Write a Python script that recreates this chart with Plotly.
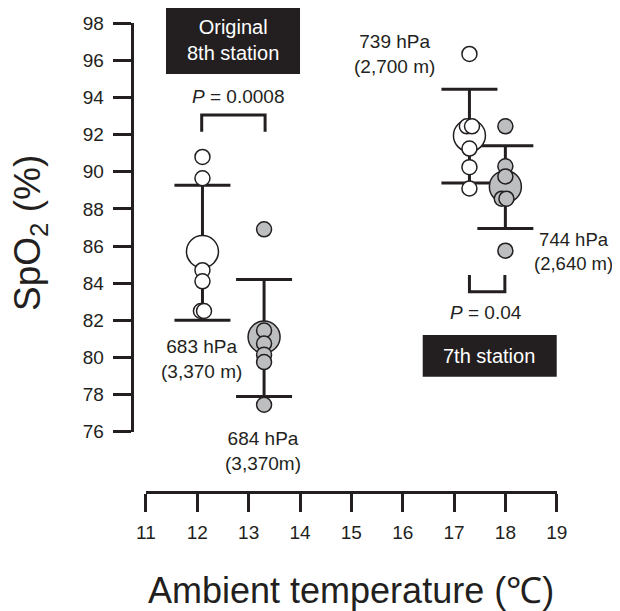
import plotly.graph_objects as go

# ---- data ----
orig_white_x = [12.1, 12.1, 12.1, 12.1, 12.07, 12.13]
orig_white_y = [90.8, 89.65, 84.7, 84.1, 82.5, 82.5]
orig_white_mean_x = 12.1
orig_white_mean = 85.7
orig_white_hi = 89.27
orig_white_lo = 82.0

orig_gray_x = [13.3, 13.3, 13.3, 13.3, 13.3, 13.3]
orig_gray_y = [86.9, 81.45, 80.75, 80.15, 79.75, 77.45]
orig_gray_mean_x = 13.3
orig_gray_mean = 81.1
orig_gray_hi = 84.2
orig_gray_lo = 77.9

st7_white_x = [17.3, 17.25, 17.35, 17.3, 17.3, 17.3]
st7_white_y = [96.35, 92.45, 92.45, 91.25, 90.25, 89.1]
st7_white_mean_x = 17.3
st7_white_mean = 91.95
st7_white_hi = 94.45
st7_white_lo = 89.4

st7_gray_x = [18.0, 18.0, 18.0, 17.93, 18.02, 18.0]
st7_gray_y = [92.45, 90.3, 89.75, 88.55, 88.55, 85.75]
st7_gray_mean_x = 18.0
st7_gray_mean = 89.2
st7_gray_hi = 91.4
st7_gray_lo = 86.95

x_ticks = [11, 12, 13, 14, 15, 16, 17, 18, 19]
y_ticks = [76, 78, 80, 82, 84, 86, 88, 90, 92, 94, 96, 98]

DARK = "#231f20"
GRAY = "#bcbec0"
FONT = "Liberation Sans, Arial, Helvetica, sans-serif"

XR = [11, 19]
YR = [76, 98]
XD = [0.0958, 0.9515]
YD = [0.1583, 0.9735]

def px(x):
    return XD[0] + (x - XR[0]) / (XR[1] - XR[0]) * (XD[1] - XD[0])

def py(y):
    return YD[0] + (y - YR[0]) / (YR[1] - YR[0]) * (YD[1] - YD[0])

fig = go.Figure()

groups = [
    (orig_white_mean_x, orig_white_mean, orig_white_hi, orig_white_lo, orig_white_x, orig_white_y, "white"),
    (orig_gray_mean_x, orig_gray_mean, orig_gray_hi, orig_gray_lo, orig_gray_x, orig_gray_y, GRAY),
    (st7_white_mean_x, st7_white_mean, st7_white_hi, st7_white_lo, st7_white_x, st7_white_y, "white"),
    (st7_gray_mean_x, st7_gray_mean, st7_gray_hi, st7_gray_lo, st7_gray_x, st7_gray_y, GRAY),
]

# error bars first (behind all circles)
for mx, m, hi, lo, xs, ys, col in groups:
    fig.add_trace(go.Scatter(
        x=[mx], y=[m], mode="markers",
        marker=dict(size=1, color="rgba(0,0,0,0)"),
        error_y=dict(type="data", symmetric=False, array=[hi - m], arrayminus=[m - lo],
                     thickness=3, width=28, color=DARK),
        showlegend=False, hoverinfo="skip"))

# means (large), then individual values (small) on top
for mx, m, hi, lo, xs, ys, col in groups:
    fig.add_trace(go.Scatter(
        x=[mx], y=[m], mode="markers",
        marker=dict(size=32, color=col, line=dict(color=DARK, width=1.5)),
        showlegend=False))
    fig.add_trace(go.Scatter(
        x=xs, y=ys, mode="markers",
        marker=dict(size=15, color=col, line=dict(color=DARK, width=1.5)),
        showlegend=False))

# brackets
fig.add_shape(type="path", path="M 12.085 92.16 L 12.085 93.06 L 13.32 93.06 L 13.32 92.16",
              xref="x", yref="y", line=dict(color=DARK, width=3))
fig.add_shape(type="path", path="M 17.30 84.44 L 17.30 83.54 L 17.99 83.54 L 17.99 84.44",
              xref="x", yref="y", line=dict(color=DARK, width=3))

# station boxes (paper coords so they are not clipped)
fig.add_shape(type="rect", x0=px(11.39), x1=px(14.0), y0=py(95.27), y1=py(98.93),
              xref="paper", yref="paper", fillcolor=DARK, line=dict(width=0), layer="above")
fig.add_shape(type="rect", x0=px(16.39), x1=px(19.0), y0=py(78.96), y1=py(81.21),
              xref="paper", yref="paper", fillcolor=DARK, line=dict(width=0), layer="above")

def ann(x, y, text, size=19, color=DARK, **kw):
    fig.add_annotation(x=px(x), y=py(y), xref="paper", yref="paper", text=text, showarrow=False,
                       font=dict(family=FONT, size=size, color=color),
                       xanchor="center", yanchor="middle", **kw)

ann(12.695, 97.1, "Original<br>8th station", size=20, color="white")
ann(17.69, 80.1, "7th station", size=20, color="white")
ann(12.79, 94.03, "<i>P</i> = 0.0008")
ann(17.62, 82.41, "<i>P</i> = 0.04")
ann(12.085, 79.92, "683 hPa<br>(3,370 m)")
ann(13.28, 74.96, "684 hPa<br>(3,370m)")
ann(15.85, 96.35, "739 hPa<br>(2,700 m)")
ann(19.33, 85.68, "744 hPa<br>(2,640 m)", size=18.5)

# axis titles
fig.add_annotation(x=-0.1458, y=0.5549, xref="paper", yref="paper",
                   text="SpO<sub>2</sub> (%)", textangle=-90, showarrow=False,
                   font=dict(family=FONT, size=37, color=DARK),
                   xanchor="center", yanchor="middle")
fig.add_annotation(x=0.523, y=-0.1577, xref="paper", yref="paper",
                   text="Ambient temperature (℃)", showarrow=False,
                   font=dict(family=FONT, size=36, color=DARK),
                   xanchor="center", yanchor="middle")

fig.update_layout(
    width=604, height=603,
    margin=dict(l=92, r=32, t=2, b=100),
    paper_bgcolor="white", plot_bgcolor="white",
    font=dict(family=FONT, color=DARK),
    xaxis=dict(domain=XD, range=XR, anchor="free", position=0.0385, automargin=False,
               showline=True, linewidth=3, linecolor=DARK, mirror=False,
               ticks="outside", ticklen=18, tickwidth=3, tickcolor=DARK,
               tickvals=x_ticks, ticktext=[str(v) for v in x_ticks],
               tickfont=dict(family=FONT, size=19, color=DARK), ticklabelstandoff=4,
               showgrid=False, zeroline=False, side="bottom"),
    yaxis=dict(domain=YD, range=YR, anchor="free", position=0.066, automargin=False,
               showline=True, linewidth=3, linecolor=DARK,
               ticks="outside", ticklen=18, tickwidth=3, tickcolor=DARK,
               tickvals=y_ticks, ticktext=[str(v) for v in y_ticks],
               tickfont=dict(family=FONT, size=19, color=DARK), ticklabelstandoff=5,
               showgrid=False, zeroline=False),
)

fig.write_html("out.html")
